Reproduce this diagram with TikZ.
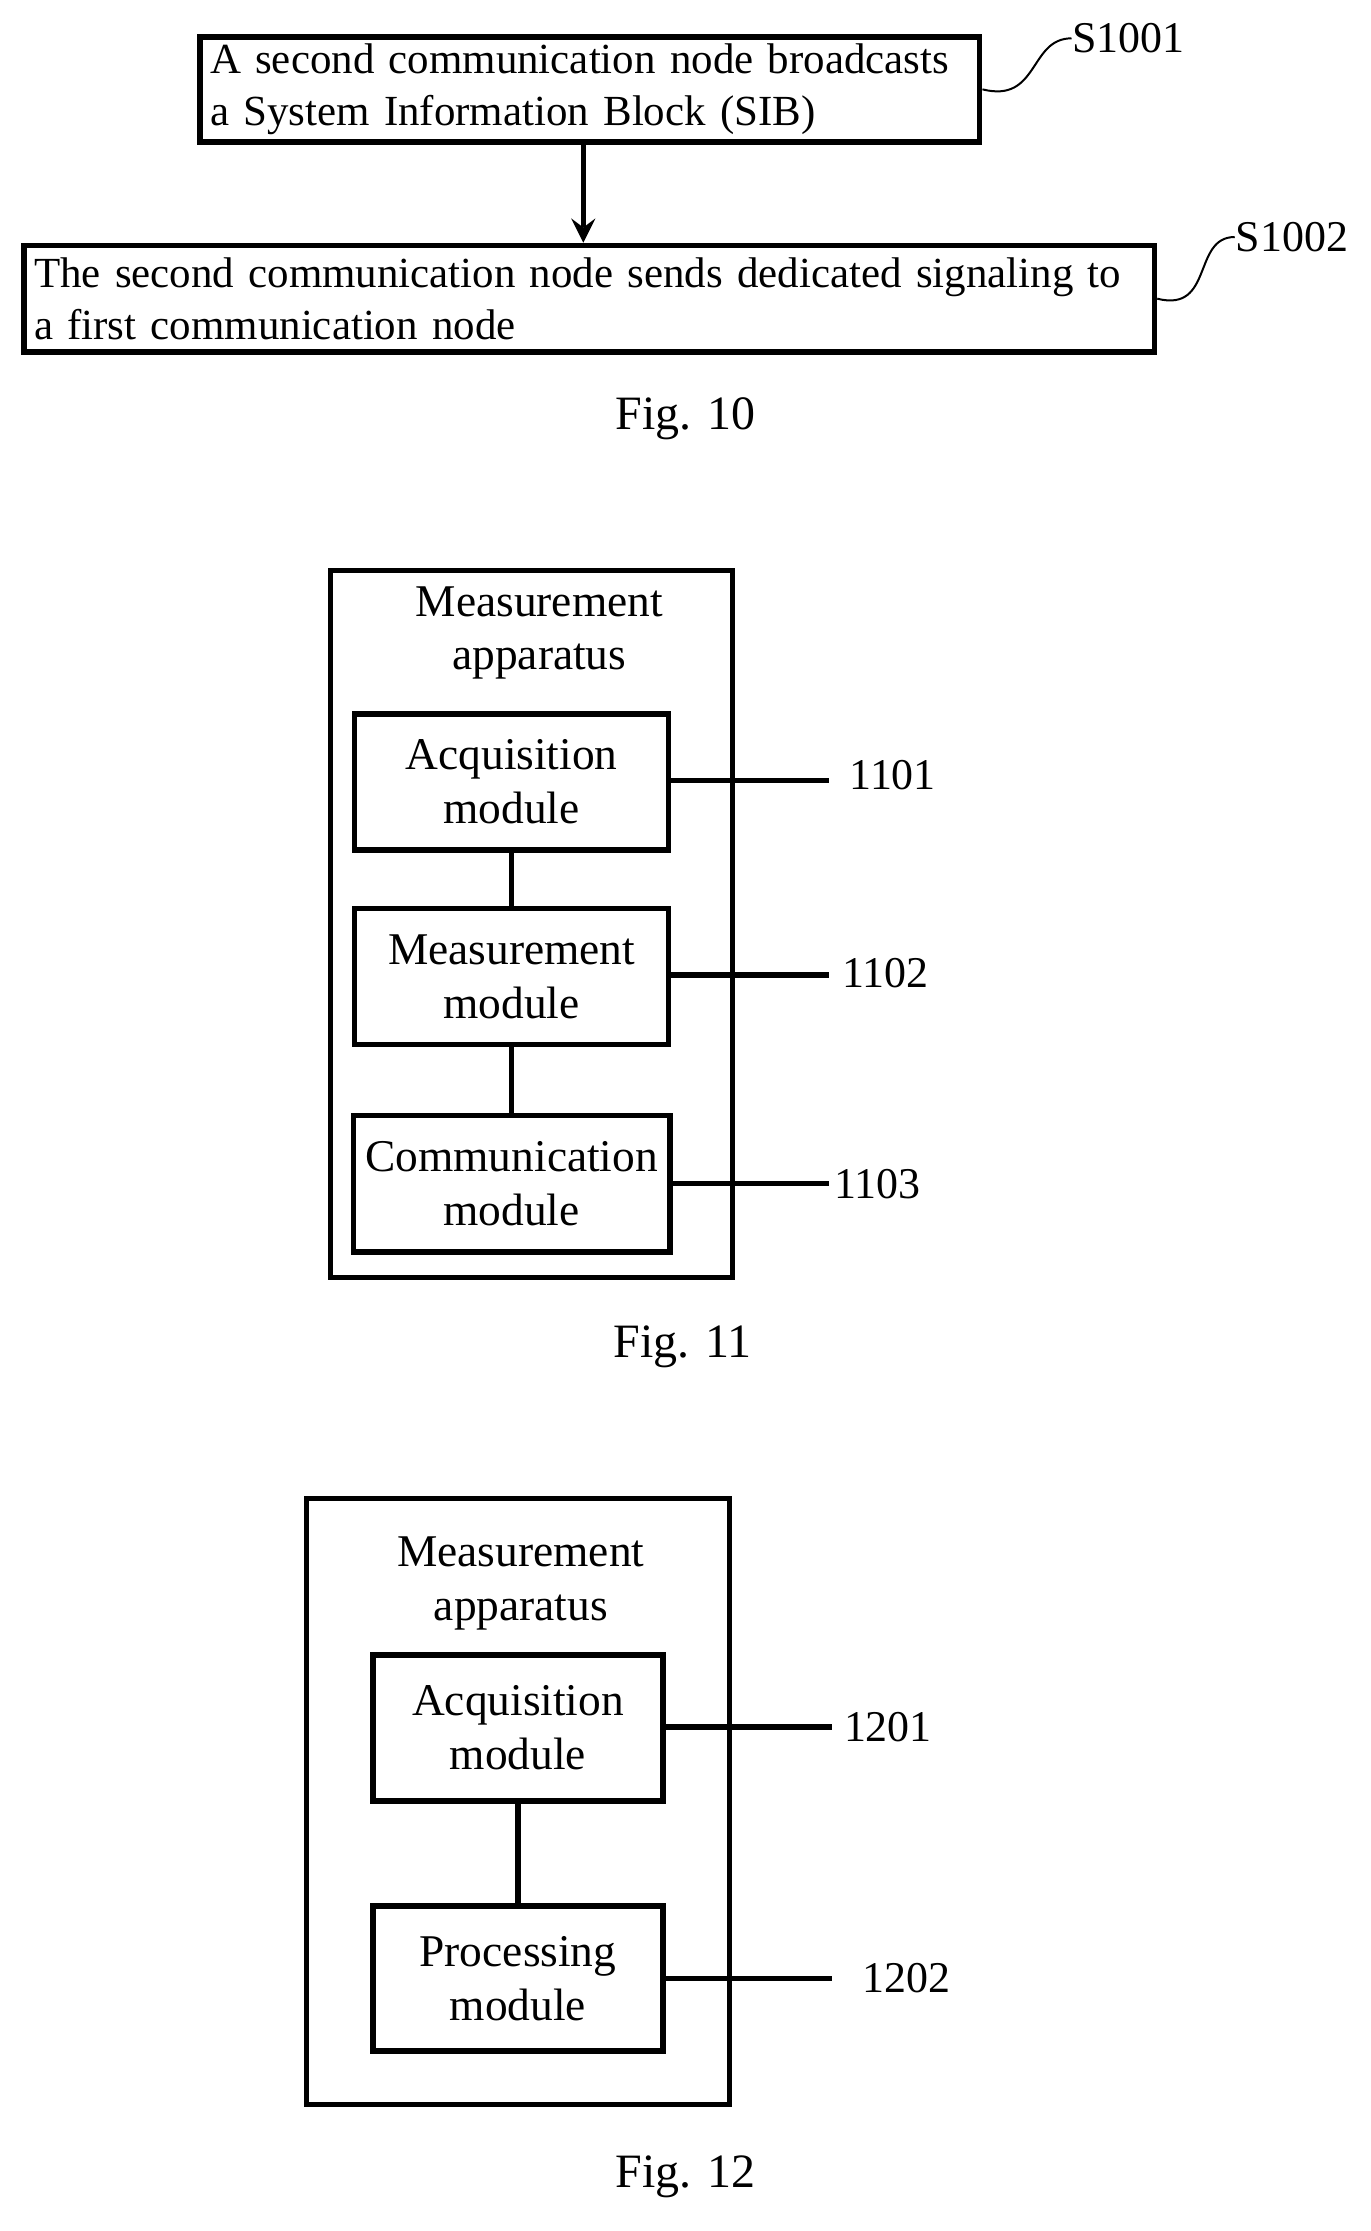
\documentclass[tikz,border=0pt]{standalone}
\usepackage{fontspec}
\setmainfont{Liberation Serif}
\usetikzlibrary{positioning}
\tikzset{
    blk/.style={draw,line width=1.1pt,inner sep=0pt,align=center,font=\fontsize{9.1}{10.8}\selectfont},
    stp/.style={draw,line width=1.1pt,inner xsep=2pt,inner ysep=0pt,align=left,anchor=north west,font=\fontsize{8.6}{10.5}\selectfont},
    lbl/.style={inner sep=0pt,font=\fontsize{8.8}{10}\selectfont},
    figcap/.style={inner sep=0pt,font=\fontsize{9.6}{11}\selectfont},
    wire/.style={line width=1.1pt}
}
\begin{document}
\begin{tikzpicture}[x=0.01cm,y=-0.01cm]
    \useasboundingbox (0,0) rectangle (966,1572);
    % Fig. 10
    \node [stp,text width=5.35cm,minimum width=5.45cm,minimum height=0.74cm] (b1) at (139,24)
        {A second communication node broadcasts\\a System Information Block (SIB)};
    \node [stp,text width=7.82cm,minimum width=7.92cm,minimum height=0.75cm] (b2) at (15,171)
        {The second communication node sends dedicated signaling to\\a first communication node};
    \node [lbl,anchor=west] (s1) at (755,27) {S1001};
    \node [lbl,anchor=west] (s2) at (870,167) {S1002};
    \draw [wire,-stealth] (b1.south -| 411,0) -- (b2.north -| 411,0);
    \draw (b1.east) .. controls +(40,10) and +(-30,0) .. (s1.west);
    \draw (b2.east) .. controls +(40,10) and +(-30,0) .. (s2.west);
    \node [figcap] (f10) at (483,295) {Fig. 10};
    % Fig. 11
    \draw [wire] (233,402) rectangle (516,900);
    \node [blk,draw=none] (t11) at (380,446) {Measurement\\apparatus};
    \node [blk,minimum width=2.21cm,minimum height=0.96cm] (acq) at (360.5,551) {Acquisition\\module};
    \node [blk,minimum width=2.21cm,minimum height=0.96cm] (mea) at (360.5,688) {Measurement\\module};
    \node [blk,minimum width=2.23cm,minimum height=0.96cm] (com) at (360.5,834) {Communication\\module};
    \draw [wire] (acq) -- (mea);
    \draw [wire] (mea) -- (com);
    \coordinate (e1) at (584,550);
    \coordinate (e2) at (584,687);
    \coordinate (e3) at (584,834);
    \draw [wire] (acq.east |- e1) -- (e1);
    \draw [wire] (mea.east |- e2) -- (e2);
    \draw [wire] (com.east |- e3) -- (e3);
    \node [lbl,anchor=west] (n1) at (598,546) {1101};
    \node [lbl,anchor=west] (n2) at (593,686) {1102};
    \node [lbl,anchor=west] (n3) at (587,834) {1103};
    \node [figcap] (f11) at (481,949) {Fig. 11};
    % Fig. 12
    \draw [wire] (216,1056) rectangle (514,1483);
    \node [blk,draw=none] (t12) at (367,1116) {Measurement\\apparatus};
    \node [blk,minimum width=2.04cm,minimum height=1.03cm] (acq2) at (365,1217.5) {Acquisition\\module};
    \node [blk,minimum width=2.04cm,minimum height=1.02cm] (pro) at (365,1394) {Processing\\module};
    \draw [wire] (acq2) -- (pro);
    \coordinate (e4) at (586,1217);
    \coordinate (e5) at (586,1394);
    \draw [wire] (acq2.east |- e4) -- (e4);
    \draw [wire] (pro.east |- e5) -- (e5);
    \node [lbl,anchor=west] (n4) at (594,1217) {1201};
    \node [lbl,anchor=west] (n5) at (607,1394) {1202};
    \node [figcap] (f12) at (483,1534) {Fig. 12};
\end{tikzpicture}
\end{document}
